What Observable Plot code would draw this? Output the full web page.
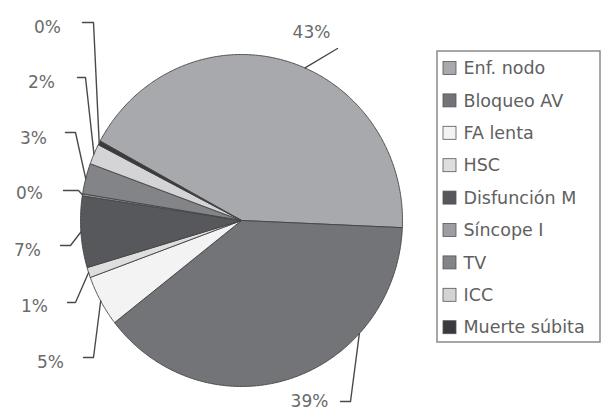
<!DOCTYPE html>
<html><head><meta charset="utf-8">
<script src="https://cdn.jsdelivr.net/npm/d3@7"></script>
<script src="https://cdn.jsdelivr.net/npm/@observablehq/plot@0.6"></script>
<style>
html,body{margin:0;padding:0;background:#fff;}
#chart svg{display:block;}
</style></head><body><div id="chart"></div>
<script>
// ---- data ----
const categories = ["Enf. nodo","Bloqueo AV","FA lenta","HSC","Disfunción M","Síncope I","TV","ICC","Muerte súbita"];
const percents = [43, 39, 5, 1, 7, 0.2, 3, 2, 0.4];
const colors = ["#a8a9ad","#737478","#f3f3f3","#dedede","#57585c","#9d9ea2","#838488","#d4d4d6","#3a3a3e"];

// ---- layout ----
const W = 605, H = 413, cx = 241, cy = 220, rx = 161, ry = 166;
const startDeg = -61.4;
// text position, leader tick (x1 -> x2 at y), fraction of slice where leader meets the pie
const labelLayout = [
  {tx:311, ty:32,  x1:337, x2:337, y:48,  f:0.55},
  {tx:309, ty:401, x1:340, x2:350, y:401, f:0.29},
  {tx:50,  ty:362, x1:83,  x2:93,  y:357, f:0.5},
  {tx:34,  ty:306, x1:67,  x2:75,  y:302, f:0.5},
  {tx:27,  ty:250, x1:60,  x2:70,  y:245, f:0.5},
  {tx:29,  ty:193, x1:63,  x2:78,  y:190, f:0.5},
  {tx:33,  ty:138, x1:65,  x2:75,  y:132, f:0.5},
  {tx:41,  ty:82,  x1:77,  x2:85,  y:77,  f:0.5},
  {tx:47,  ty:27,  x1:82,  x2:93,  y:22,  f:0.5}
];
const legendBox = {x1:437, x2:600, y1:51, y2:342};
const legendY0 = 68, legendStep = 32.4;

const pie = d3.pie().sort(null).value(d => d)
  .startAngle(startDeg * Math.PI / 180)
  .endAngle(startDeg * Math.PI / 180 + 2 * Math.PI)(percents);
const pt = a => [cx + rx * Math.sin(a), cy - ry * Math.cos(a)];

const slicePts = [];
pie.forEach((p, i) => {
  const cat = categories[i];
  slicePts.push({cat, x: cx, y: cy});
  const n = Math.max(2, Math.ceil((p.endAngle - p.startAngle) / (Math.PI / 360)));
  for (let j = 0; j <= n; j++) {
    const a = p.startAngle + (p.endAngle - p.startAngle) * j / n;
    const [x, y] = pt(a);
    slicePts.push({cat, x, y});
  }
  slicePts.push({cat, x: cx, y: cy});
});

const leaderPts = [];
const labels = [];
pie.forEach((p, i) => {
  const L = labelLayout[i];
  const a = p.startAngle + (p.endAngle - p.startAngle) * L.f;
  const [ax, ay] = pt(a);
  leaderPts.push({k: i, x: L.x1, y: L.y}, {k: i, x: L.x2, y: L.y}, {k: i, x: ax, y: ay});
  labels.push({x: L.tx, y: L.ty, text: Math.round(percents[i]) + "%"});
});

const chart = Plot.plot({
  width: W, height: H,
  marginTop: 0, marginRight: 0, marginBottom: 0, marginLeft: 0,
  x: {domain: [0, W], range: [0, W], axis: null},
  y: {domain: [0, H], range: [0, H], axis: null},
  color: {domain: categories, range: colors},
  style: {fontFamily: "DejaVu Sans", background: "#fff"},
  marks: [
    Plot.line(slicePts, {x: "x", y: "y", z: "cat", fill: "cat", stroke: "#444", strokeWidth: 0.9, curve: "linear", strokeLinejoin: "round"}),
    Plot.line(leaderPts, {x: "x", y: "y", z: "k", stroke: "#4a4a4a", strokeWidth: 1.4, curve: "linear"}),
    Plot.text(labels, {x: "x", y: "y", text: "text", fill: "#6a6a6a", fontSize: 17, textAnchor: "middle", lineAnchor: "middle"}),
    Plot.rect([legendBox], {x1: "x1", x2: "x2", y1: "y1", y2: "y2", fill: "#fff", stroke: "#8a8a8a", strokeWidth: 1.5}),
    Plot.rect(categories, {x1: 443, x2: 456, y1: (d, i) => legendY0 + i * legendStep - 6.5, y2: (d, i) => legendY0 + i * legendStep + 6.5, fill: d => d, stroke: "#555", strokeWidth: 0.8}),
    Plot.text(categories, {x: 463, y: (d, i) => legendY0 + i * legendStep, text: d => d, fill: "#606060", fontSize: 17.5, textAnchor: "start", lineAnchor: "middle"})
  ]
});
document.getElementById("chart").appendChild(chart);
</script>
</body></html>
